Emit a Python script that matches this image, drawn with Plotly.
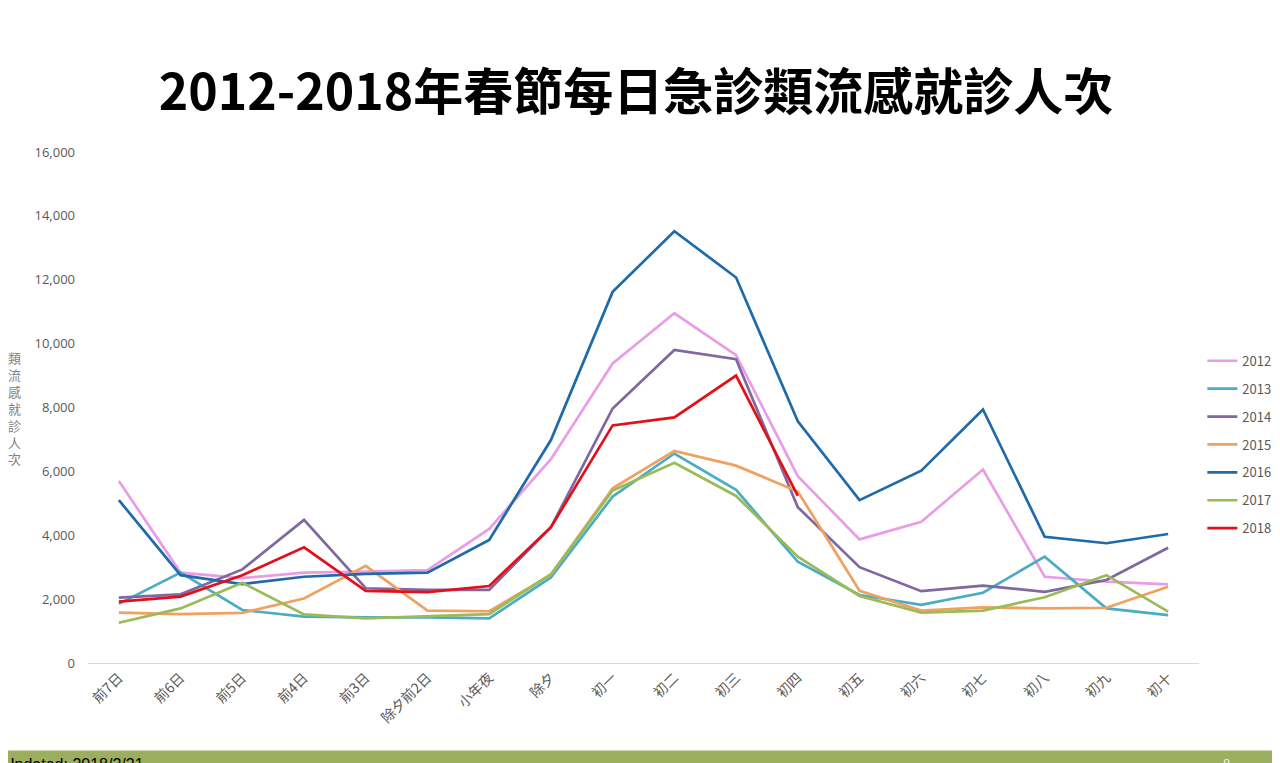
import plotly.graph_objects as go

# Categories (days around Lunar New Year)
days = ["前7日", "前6日", "前5日", "前4日", "前3日", "除夕前2日", "小年夜", "除夕",
        "初一", "初二", "初三", "初四", "初五", "初六", "初七", "初八", "初九", "初十"]

# Daily ILI emergency visits per year
y2012 = [5700, 2830, 2660, 2830, 2860, 2910, 4200, 6380, 9380, 10950, 9640, 5850,
         3870, 4420, 6060, 2700, 2550, 2460]
y2013 = [1850, 2830, 1660, 1450, 1430, 1430, 1400, 2680, 5210, 6560, 5420, 3170,
         2130, 1820, 2200, 3330, 1710, 1500]
y2014 = [2050, 2150, 2930, 4480, 2340, 2290, 2290, 4250, 7970, 9800, 9510, 4880,
         3000, 2250, 2420, 2230, 2600, 3610]
y2015 = [1580, 1530, 1570, 2020, 3040, 1640, 1620, 2760, 5470, 6640, 6180, 5370,
         2260, 1640, 1740, 1710, 1730, 2390]
y2016 = [5100, 2750, 2470, 2700, 2790, 2830, 3850, 6980, 11620, 13520, 12070, 7570,
         5100, 6020, 7940, 3950, 3750, 4040]
y2017 = [1260, 1710, 2510, 1520, 1400, 1470, 1530, 2780, 5400, 6270, 5230, 3330,
         2100, 1580, 1640, 2060, 2750, 1610]
y2018 = [1920, 2080, 2750, 3620, 2260, 2220, 2410, 4250, 7440, 7690, 9000, 5230]

series = [
    ("2012", y2012, "#E99DE6"),
    ("2013", y2013, "#4BACC6"),
    ("2014", y2014, "#7F67A0"),
    ("2015", y2015, "#F0A060"),
    ("2016", y2016, "#1F6AAA"),
    ("2017", y2017, "#9BBB59"),
    ("2018", y2018, "#E3101A"),
]

fig = go.Figure()
for name, vals, color in series:
    fig.add_trace(
        go.Scatter(
            x=days[: len(vals)],
            y=vals,
            mode="lines",
            name=name,
            legendgroup=name,
            line=dict(color=color, width=2.7),
        )
    )

grey = "#595959"

fig.update_layout(
    width=1280,
    height=763,
    paper_bgcolor="white",
    plot_bgcolor="white",
    margin=dict(l=80, r=78, t=144, b=108),
    title=dict(
        text="<b>2012-2018年春節每日急診類流感就診人次</b>",
        x=0.4906,
        xanchor="center",
        y=0.889,
        yanchor="middle",
        font=dict(family="Noto Sans CJK TC", size=50, color="black"),
    ),
    font=dict(family="Noto Sans CJK TC, Noto Sans", color=grey, size=12),
    showlegend=True,
    legend=dict(
        x=1.003,
        xanchor="left",
        y=0.427,
        yanchor="middle",
        font=dict(size=13, color=grey),
        tracegroupgap=8,
        itemwidth=30,
    ),
)

fig.update_xaxes(
    type="category",
    categoryorder="array",
    categoryarray=days,
    range=[-0.5, 17.5],
    showgrid=False,
    showline=True,
    linecolor="#D9D9D9",
    linewidth=1,
    tickangle=-45,
    ticks="",
    tickfont=dict(size=14, color=grey),
    zeroline=False,
)
fig.update_yaxes(
    range=[0, 16000],
    tickvals=[0, 2000, 4000, 6000, 8000, 10000, 12000, 14000, 16000],
    tickformat=",",
    showgrid=False,
    zeroline=False,
    showline=False,
    ticks="",
    ticklabelstandoff=12,
    tickfont=dict(size=13, color=grey, family="Open Sans"),
)

# Vertical stacked y-axis title
fig.add_annotation(
    text="<br>".join(list("類流感就診人次")),
    xref="paper",
    yref="paper",
    x=-0.066,
    y=0.5,
    xanchor="center",
    yanchor="middle",
    showarrow=False,
    font=dict(size=13, color="#7F7F7F"),
)

# Green footer bar
fig.add_shape(
    type="rect",
    xref="paper",
    yref="paper",
    x0=-0.1,
    x1=1.1,
    y0=-0.25,
    y1=-0.1713,
    fillcolor="#9BAF5E",
    line=dict(width=0),
    layer="above",
)
fig.add_shape(
    type="line",
    xref="paper",
    yref="paper",
    x0=-0.1,
    x1=1.1,
    y0=-0.1713,
    y1=-0.1713,
    line=dict(color="#C9D4A8", width=1),
)
fig.add_annotation(
    text="Updated: 2018/2/21",
    xref="paper",
    yref="paper",
    x=-0.078,
    y=-0.178,
    xanchor="left",
    yanchor="top",
    showarrow=False,
    font=dict(size=16, color="black", family="Liberation Sans"),
)
fig.add_annotation(
    text="8",
    xref="paper",
    yref="paper",
    x=1.02,
    y=-0.179,
    xanchor="left",
    yanchor="top",
    showarrow=False,
    font=dict(size=13, color="#EEF2E0", family="Liberation Sans"),
)

fig.write_html("out.html")
